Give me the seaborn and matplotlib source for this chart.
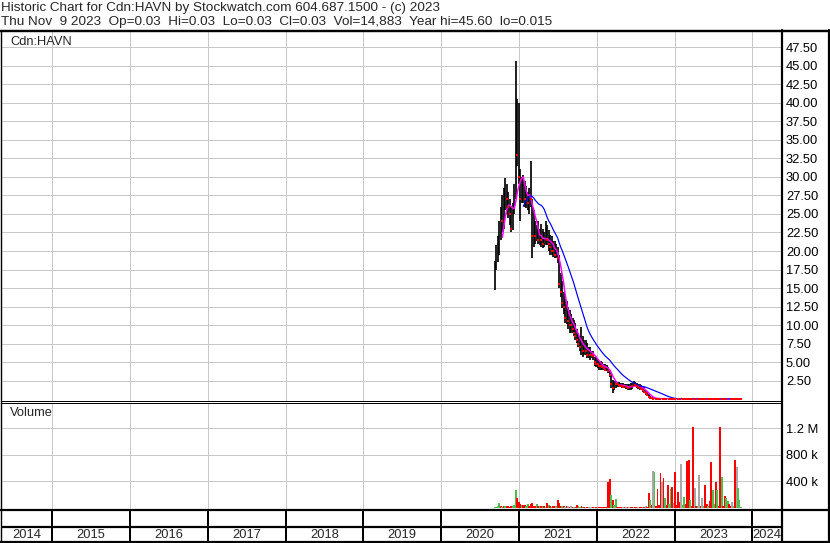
import numpy as np
import pandas as pd
import matplotlib
matplotlib.use('Agg')
import matplotlib.pyplot as plt
from matplotlib.lines import Line2D
import seaborn as sns

# weekly bars, first week 2020-09-10, last week 2023-11-09
high = [18.6, 20.8, 22.0, 24.0, 26.0, 27.6, 28.5, 29.9, 29.0, 28.0,
        27.0, 26.0, 26.5, 29.0, 45.6, 40.5, 40.0, 31.0, 30.0, 30.3,
        29.5, 28.8, 28.0, 28.5, 32.1, 27.0, 25.5, 24.0, 23.5, 24.0,
        23.0, 23.7, 23.0, 22.5, 24.0, 23.5, 22.8, 22.2, 22.0, 21.3,
        21.3, 21.0, 20.5, 19.5, 17.0, 15.9, 14.5, 13.5, 13.2, 12.5,
        12.0, 11.5, 11.0, 10.7, 10.3, 9.5, 9.0, 8.5, 9.8, 8.5,
        8.0, 8.0, 7.6, 7.0, 7.0, 6.5, 6.5, 5.7, 5.5, 5.4,
        5.2, 5.1, 5.0, 4.8, 4.8, 4.6, 4.4, 4.0, 3.5, 2.6,
        2.4, 2.4, 2.3, 2.3, 2.2, 2.2, 2.2, 2.1, 2.1, 2.0,
        2.1, 2.2, 2.2, 2.4, 2.3, 2.2, 2.1, 2.0, 1.9, 1.8,
        1.6, 1.3, 1.0, 0.7, 0.4, 0.3, 0.2, 0.16, 0.14, 0.13,
        0.12, 0.12, 0.11, 0.11, 0.10, 0.10, 0.10, 0.09, 0.09, 0.09,
        0.08, 0.08, 0.08, 0.08, 0.07, 0.07, 0.07, 0.07, 0.07, 0.06,
        0.06, 0.06, 0.06, 0.06, 0.06, 0.05, 0.05, 0.05, 0.05, 0.05,
        0.05, 0.05, 0.05, 0.05, 0.04, 0.04, 0.04, 0.04, 0.04, 0.04,
        0.04, 0.04, 0.04, 0.04, 0.04, 0.04, 0.035, 0.035, 0.035, 0.035,
        0.035, 0.035, 0.035, 0.03, 0.03, 0.03]
low = [14.7, 17.5, 18.5, 19.5, 21.5, 22.5, 23.0, 25.5, 25.0, 24.5,
       23.5, 22.6, 22.8, 25.0, 27.0, 31.5, 29.0, 24.0, 26.5, 26.5,
       26.0, 25.8, 25.5, 25.0, 26.0, 19.0, 20.5, 21.0, 21.3, 21.0,
       20.8, 20.5, 20.4, 20.5, 20.8, 20.8, 20.0, 19.5, 19.5, 19.2,
       19.0, 19.0, 18.4, 15.0, 13.8, 12.3, 11.5, 10.3, 10.2, 9.5,
       9.0, 9.0, 8.9, 8.5, 8.0, 7.6, 7.0, 6.5, 6.0, 5.7,
       6.0, 6.0, 5.5, 5.5, 5.3, 5.5, 5.3, 4.5, 4.3, 4.2,
       4.0, 4.0, 3.9, 3.9, 3.8, 3.8, 3.5, 3.0, 1.5, 0.8,
       1.3, 1.5, 1.6, 1.6, 1.6, 1.5, 1.5, 1.5, 1.4, 1.3,
       1.3, 1.3, 1.4, 1.6, 1.6, 1.5, 1.4, 1.3, 1.2, 1.0,
       0.9, 0.6, 0.4, 0.2, 0.1, 0.08, 0.06, 0.06, 0.05, 0.05,
       0.05, 0.05, 0.05, 0.04, 0.04, 0.04, 0.04, 0.04, 0.04, 0.04,
       0.035, 0.035, 0.035, 0.035, 0.035, 0.035, 0.035, 0.035, 0.035, 0.035,
       0.03, 0.03, 0.03, 0.03, 0.03, 0.03, 0.03, 0.03, 0.03, 0.03,
       0.025, 0.025, 0.025, 0.025, 0.025, 0.025, 0.025, 0.025, 0.025, 0.025,
       0.02, 0.02, 0.02, 0.02, 0.02, 0.015, 0.015, 0.02, 0.02, 0.02,
       0.02, 0.025, 0.025, 0.025, 0.03, 0.03]
close = [18.0, 20.0, 21.0, 23.0, 25.0, 24.0, 27.0, 28.0, 27.0, 26.0,
         25.0, 23.0, 25.5, 28.0, 33.0, 33.0, 30.0, 27.0, 28.0, 29.0,
         27.0, 27.5, 26.5, 27.5, 27.0, 22.0, 23.0, 22.0, 22.5, 21.5,
         22.0, 21.5, 21.0, 21.5, 22.5, 21.5, 21.0, 20.5, 20.0, 20.0,
         19.5, 20.0, 19.0, 15.5, 14.5, 13.0, 12.5, 11.0, 11.5, 10.5,
         10.0, 10.0, 9.5, 9.0, 8.5, 8.0, 7.5, 7.0, 7.5, 6.5,
         7.0, 6.5, 6.0, 6.5, 6.0, 6.0, 5.8, 5.0, 4.8, 4.8,
         4.5, 4.5, 4.3, 4.2, 4.0, 4.2, 3.8, 3.2, 2.0, 1.5,
         2.0, 2.0, 2.0, 1.9, 1.8, 1.8, 1.7, 1.8, 1.6, 1.5,
         1.6, 1.8, 1.8, 2.0, 1.9, 1.8, 1.6, 1.5, 1.4, 1.2,
         1.0, 0.8, 0.5, 0.3, 0.2, 0.1, 0.08, 0.1, 0.08, 0.07,
         0.07, 0.06, 0.07, 0.06, 0.06, 0.05, 0.06, 0.05, 0.05, 0.05,
         0.05, 0.045, 0.05, 0.045, 0.04, 0.045, 0.04, 0.04, 0.04, 0.04,
         0.04, 0.04, 0.035, 0.04, 0.035, 0.035, 0.04, 0.035, 0.035, 0.035,
         0.035, 0.03, 0.035, 0.03, 0.03, 0.03, 0.03, 0.03, 0.03, 0.03,
         0.03, 0.025, 0.03, 0.025, 0.025, 0.02, 0.025, 0.03, 0.03, 0.03,
         0.03, 0.03, 0.03, 0.03, 0.03, 0.03]
# weekly volume in thousands
volume_k = [5, 8, 20, 63, 20, 15, 20, 25, 18, 20,
            15, 25, 20, 40, 265, 150, 88, 53, 40, 45,
            45, 30, 48, 30, 48, 63, 30, 25, 48, 30,
            25, 20, 25, 20, 15, 63, 38, 20, 15, 20,
            25, 20, 113, 63, 30, 20, 25, 15, 23, 23,
            10, 23, 15, 10, 15, 38, 30, 15, 20, 10,
            12, 10, 12, 8, 13, 13, 10, 8, 8, 6,
            5, 6, 5, 5, 6, 8, 391, 432, 189, 113,
            40, 129, 10, 12, 8, 6, 8, 5, 7, 6,
            8, 5, 6, 7, 5, 8, 6, 5, 7, 6,
            10, 28, 15, 215, 113, 40, 557, 538, 30, 275,
            40, 528, 391, 447, 150, 40, 341, 60, 275, 316,
            63, 538, 40, 240, 88, 659, 40, 159, 50, 710,
            720, 113, 30, 1225, 300, 20, 25, 492, 30, 149,
            20, 341, 48, 20, 100, 682, 265, 60, 391, 265,
            30, 1225, 457, 23, 174, 149, 100, 48, 20, 88,
            20, 720, 619, 300, 113, 15]
# u = up week, d = down week, n = unchanged
dir_rows = ["uuuudududd", "dduuudddud", "duudddddud", "ududndudud",
            "dudddudndn", "dndudduudu", "dndunndndn", "ddddddddud",
            "uuddddndnd", "nddnddnddn", "dnddudnudd", "ddndudduud",
            "nddddnuudd", "duddndundn", "uddudduudu", "ddudduuddn",
            "udnuuu"]
direction = list("".join(dir_rows))

W, H = 830, 543
sns.set_style('white')
plt.rcParams['font.family'] = ['Liberation Sans', 'DejaVu Sans']
FS = 9.3
FS_HEAD = 9.7

df = pd.DataFrame({'date': pd.date_range('2020-09-10', periods=len(close), freq='7D'),
                   'high': high, 'low': low, 'close': close,
                   'volume': np.array(volume_k) * 1000, 'dir': direction})
df['ma_short'] = df['close'].rolling(6).mean()
df['ma_long'] = df['close'].rolling(20).mean()
vol_colors = df['dir'].map({'u': '#4dbf4d', 'd': '#ff0000', 'n': '#a8a8a8'})
falling = df[df['close'] <= df['close'].shift(1)]


def box(x0, y0, x1, y1):
    return [x0 / W, 1 - y1 / H, (x1 - x0) / W, (y1 - y0) / H]


def pt(p):
    # pixels to points at 100 dpi
    return p * 0.72


def hline(x0, x1, y, lw=2):
    fig.add_artist(Line2D([x0 / W, x1 / W], [1 - y / H, 1 - y / H], color='black', lw=pt(lw)))


def vline(x, y0, y1, lw=2):
    fig.add_artist(Line2D([x / W, x / W], [1 - y0 / H, 1 - y1 / H], color='black', lw=pt(lw)))


xmin, xmax = pd.Timestamp('2014-05-11'), pd.Timestamp('2024-05-17')
year_starts = [pd.Timestamp(f'{y}-01-01') for y in range(2015, 2025)]
grid_c = '#c8c8c8'

fig = plt.figure(figsize=(W / 100, H / 100), dpi=100)

# price panel
ax_p = fig.add_axes(box(2, 31, 781.5, 400.5))
ax_p.vlines(df['date'], df['low'], df['high'], color='black', lw=pt(1.7), capstyle='butt', zorder=3)
sns.lineplot(data=df, x='date', y='ma_short', color='#ff00ff', lw=pt(1.5), ax=ax_p, zorder=4)
sns.lineplot(data=df, x='date', y='ma_long', color='#0000ff', lw=pt(1.2), ax=ax_p, zorder=5)
ax_p.plot(falling['date'], falling['close'], ls='none', marker='s', ms=pt(2.4), mew=0,
          color='#ff0000', zorder=6)
ax_p.set_xlim(xmin, xmax)
ax_p.set_ylim(-0.175, 49.69)
price_ticks = np.arange(2.5, 48, 2.5)
ax_p.set_yticks(price_ticks)
ax_p.set_yticklabels([f'{v:.2f}' for v in price_ticks])
ax_p.set_xticks(year_starts)
ax_p.yaxis.tick_right()
ax_p.tick_params(axis='y', length=0, pad=pt(4.5), labelsize=FS, labelcolor='black')
ax_p.tick_params(axis='x', length=0, labelbottom=False)
ax_p.grid(True, color=grid_c, lw=pt(1))
ax_p.set_axisbelow(True)
ax_p.set_xlabel('')
ax_p.set_ylabel('')
for s in ['top', 'left', 'right']:
    ax_p.spines[s].set_visible(False)
ax_p.spines['bottom'].set_color('black')
ax_p.spines['bottom'].set_linewidth(pt(1))
ax_p.text(8 / 779.5, 1 - (41.7 - 31) / 369.5, 'Cdn:HAVN', transform=ax_p.transAxes,
          fontsize=FS, va='center', ha='left')

# volume panel
ax_v = fig.add_axes(box(2, 402.5, 781.5, 509.5))
ax_v.bar(df['date'], df['volume'], width=9, color=vol_colors, edgecolor='none', linewidth=0, zorder=3)
ax_v.set_xlim(xmin, xmax)
ax_v.set_ylim(-30303, 1590909)
ax_v.set_yticks([400000, 800000, 1200000])
ax_v.set_yticklabels(['400 k', '800 k', '1.2 M'])
ax_v.set_xticks(year_starts)
ax_v.yaxis.tick_right()
ax_v.tick_params(axis='y', length=0, pad=pt(4.5), labelsize=FS, labelcolor='black')
ax_v.tick_params(axis='x', length=0, labelbottom=False)
ax_v.grid(True, color=grid_c, lw=pt(1))
ax_v.set_axisbelow(True)
for s in ['left', 'right', 'bottom']:
    ax_v.spines[s].set_visible(False)
ax_v.spines['top'].set_color('black')
ax_v.spines['top'].set_linewidth(pt(1))
ax_v.text(8 / 779.5, 1 - (413 - 402.5) / 107, 'Volume', transform=ax_v.transAxes,
          fontsize=FS, va='center', ha='left')

# date band and year labels
ax_b = fig.add_axes(box(2, 509.5, 781.5, 542))
ax_b.set_xlim(xmin, xmax)
ax_b.set_ylim(0, 1)
ax_b.vlines(year_starts, 0, 1, color='black', lw=pt(2))
ax_b.axhline((542 - 526.7) / 32.5, color='black', lw=pt(2.2))
ax_b.set_xticks([])
ax_b.set_yticks([])
for s in ax_b.spines.values():
    s.set_visible(False)
for y in range(2014, 2025):
    a = max(pd.Timestamp(f'{y}-01-01'), xmin)
    b = min(pd.Timestamp(f'{y + 1}-01-01'), xmax)
    ax_b.text(a + (b - a) / 2, (542 - 535) / 32.5, str(y), ha='center', va='center', fontsize=FS)

# frame lines
hline(0, 830, 30.5, 2.4)
hline(0, 830, 510.2, 2.2)
hline(0, 830, 541.8, 2.2)
vline(781.7, 30, 543, 2.2)
vline(828.6, 30, 543, 2.2)
vline(0.6, 30, 543, 1.4)

fig.text(1 / W, 1 - 8.5 / H, 'Historic Chart for Cdn:HAVN by Stockwatch.com 604.687.1500 - (c) 2023',
         fontsize=FS_HEAD, va='center', ha='left')
fig.text(1 / W, 1 - 22 / H,
         'Thu Nov  9 2023  Op=0.03  Hi=0.03  Lo=0.03  Cl=0.03  Vol=14,883  Year hi=45.60  lo=0.015',
         fontsize=FS_HEAD, va='center', ha='left')

fig.savefig('out.png', dpi=100, facecolor='white')
